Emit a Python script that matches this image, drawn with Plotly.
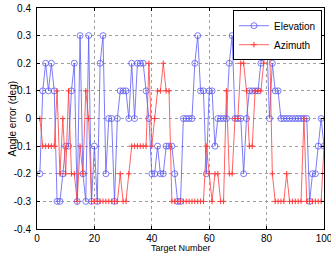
import plotly.graph_objects as go

targets = list(range(1, 101))

elevation = [
    -0.2, 0.1, 0.2, 0.1, 0.2, 0.1, -0.3, -0.3, -0.2, -0.1,
    -0.1, 0.1, 0.2, -0.3, 0.3, -0.2, -0.3, 0.3, -0.3, -0.1,
    -0.3, 0.2, 0.3, -0.2, 0.0, 0.0, -0.3, 0.0, 0.1, 0.1,
    0.1, 0.0, 0.2, 0.0, 0.2, 0.2, 0.2, 0.1, 0.0, -0.2,
    -0.2, -0.1, -0.2, -0.2, -0.1, -0.1, -0.1, -0.2, -0.3, -0.3,
    0.0, 0.0, 0.0, 0.0, 0.2, 0.3, 0.1, 0.1, -0.2, 0.1,
    0.1, -0.1, 0.0, 0.0, 0.0, 0.0, 0.2, 0.3, 0.0, 0.0,
    0.0, -0.2, 0.0, 0.1, 0.1, 0.1, 0.1, 0.2, 0.3, 0.3,
    0.0, 0.2, 0.1, 0.1, 0.0, 0.0, 0.0, 0.0, 0.0, 0.0,
    0.0, 0.0, 0.0, 0.0, -0.3, -0.2, -0.2, -0.1, 0.0, -0.1,
]

azimuth = [
    0.0, -0.1, -0.1, -0.1, -0.1, -0.1, 0.1, -0.2, 0.0, -0.2,
    0.1, -0.2, -0.2, -0.3, -0.1, -0.2, 0.1, 0.0, -0.3, -0.3,
    -0.3, -0.3, -0.3, -0.3, -0.3, -0.3, -0.3, -0.3, -0.2, -0.3,
    -0.3, -0.2, -0.1, -0.1, -0.1, -0.1, -0.1, -0.1, 0.2, -0.1,
    0.0, 0.1, 0.1, 0.2, 0.1, 0.1, -0.3, -0.3, -0.3, -0.3,
    -0.3, -0.3, -0.3, -0.3, -0.3, -0.3, -0.3, -0.3, -0.1, -0.2,
    -0.3, -0.2, -0.2, -0.3, -0.3, 0.1, -0.2, -0.2, 0.0, 0.0,
    0.2, 0.2, 0.1, -0.1, -0.1, 0.1, 0.1, 0.1, 0.2, 0.3,
    0.3, -0.2, -0.3, -0.3, -0.3, -0.3, -0.2, -0.3, -0.3, -0.3,
    -0.3, -0.3, 0.0, -0.3, -0.3, -0.3, -0.3, -0.3, -0.3, -0.1,
]

x_ticks = [0, 20, 40, 60, 80, 100]
y_ticks = [-0.4, -0.3, -0.2, -0.1, 0.0, 0.1, 0.2, 0.3, 0.4]
y_tick_labels = ["-0.4", "-0.3", "-0.2", "-0.1", "0", "0.1", "0.2", "0.3", "0.4"]

FONT = "Liberation Sans, Arial, sans-serif"
BLUE = "#5a5af5"
RED = "#ff3b3b"

fig = go.Figure()
fig.add_trace(go.Scatter(
    x=targets, y=elevation, name="Elevation", mode="lines+markers",
    line=dict(color=BLUE, width=0.8),
    marker=dict(symbol="circle-open", size=6, color=BLUE, line=dict(width=0.8)),
))
fig.add_trace(go.Scatter(
    x=targets, y=azimuth, name="Azimuth", mode="lines+markers",
    line=dict(color=RED, width=0.8),
    marker=dict(symbol="cross-thin-open", size=4, color=RED, line=dict(width=1, color=RED)),
))

axis_common = dict(
    showline=True, linecolor="black", linewidth=1, mirror="ticks",
    ticks="inside", ticklen=3, tickcolor="black",
    showgrid=True, gridcolor="#a0a0a0", griddash="dot", gridwidth=1,
    zeroline=False, automargin=False,
    tickfont=dict(family=FONT, size=10, color="black"),
)

fig.update_xaxes(
    range=[0, 100], tickvals=x_ticks, ticklabeloverflow="allow",
    ticklabelstandoff=0,
    **axis_common,
)
fig.update_yaxes(
    range=[-0.4, 0.4], tickvals=y_ticks, ticktext=y_tick_labels,
    ticklabelstandoff=3,
    **axis_common,
)

fig.update_layout(
    width=331, height=254,
    margin=dict(l=37, r=7, t=8, b=25),
    paper_bgcolor="white", plot_bgcolor="white",
    font=dict(family=FONT, size=10, color="black"),
    showlegend=True,
    legend=dict(
        x=0.993, y=0.99, xanchor="right", yanchor="top",
        bgcolor="white", bordercolor="black", borderwidth=1,
        font=dict(family=FONT, size=10, color="black"),
        tracegroupgap=0, itemwidth=30,
    ),
    annotations=[
        dict(text="Angle error (deg)", textangle=-90, xref="paper", yref="paper",
             x=-0.087, y=0.5, xanchor="center", yanchor="middle", showarrow=False,
             font=dict(family=FONT, size=10, color="black")),
        dict(text="Target Number", xref="paper", yref="paper",
             x=0.5, y=-0.112, xanchor="center", yanchor="bottom", showarrow=False,
             borderpad=0, font=dict(family=FONT, size=9, color="black")),
    ],
)

fig.write_html("out.html")
